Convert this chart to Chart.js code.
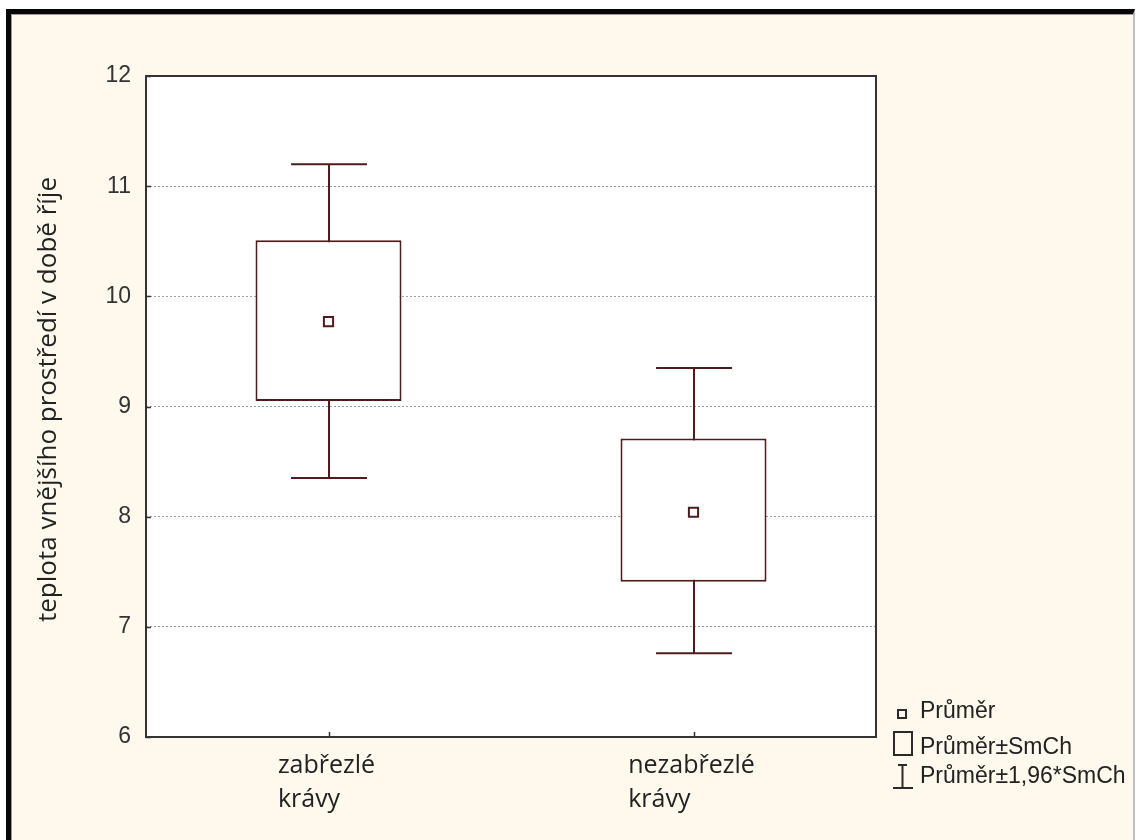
<!DOCTYPE html>
<html>
<head>
<meta charset="utf-8">
<script src="https://cdn.jsdelivr.net/npm/chart.js@4.4.1/dist/chart.umd.min.js"></script>
<style>
  html, body { margin: 0; padding: 0; background: #ffffff; }
  body { width: 1137px; height: 840px; position: relative; overflow: hidden; }
  #frame {
    position: absolute; left: 6px; top: 9px; width: 1122px; height: 826px;
    background: #fef9ec;
    border-top: 5px solid #060606; border-left: 5px solid #060606; border-right: 2px solid #bdbdbd;
    box-shadow: inset 1px 1px 0 #9c9c9c;
  }
  #chart { position: absolute; left: 0; top: 0; }
  .lg-text {
    position: absolute; left: 920px; font-family: "Liberation Sans", Arial, sans-serif;
    font-size: 23px; line-height: 23px; color: #222; white-space: nowrap;
  }
  .lg-sym { position: absolute; }
</style>
</head>
<body>
<div id="frame"></div>
<canvas id="chart" width="1137" height="840"></canvas>

<!-- legend -->
<div class="lg-sym" style="left:897px;top:709px;width:10px;height:10px;box-sizing:border-box;border:2px solid #2a2a2a;"></div>
<div class="lg-text" style="top:699px;">Průměr</div>
<div class="lg-sym" style="left:893px;top:731px;width:20px;height:25px;box-sizing:border-box;border:2px solid #2a2a2a;"></div>
<div class="lg-text" style="top:735px;">Průměr±SmCh</div>
<svg class="lg-sym" style="left:890px;top:760px;" width="26" height="32">
  <path d="M8 5 H17 M12.5 5 V28 M3 28 H23" stroke="#2a2a2a" stroke-width="2" fill="none"/>
</svg>
<div class="lg-text" style="top:764px;">Průměr±1,96*SmCh</div>

<script>
// Group labels (each entry is split over two lines)
const categories = [['zabřezlé', 'krávy'], ['nezabřezlé', 'krávy']];
// Mean, mean ± standard error, mean ± 1.96 * standard error
const means  = [9.77, 8.04];
const seLow  = [9.05, 7.41];
const seHigh = [10.51, 8.71];
const ciLow  = [8.35, 6.76];
const ciHigh = [11.20, 9.35];
// Value axis
const yMin = 6, yMax = 12, yStep = 1;
const yTitle = 'teplota vnějšího prostředí v době říje';

const BOX_COLOR = '#4e1c1c';
const FRAME_COLOR = '#333333';
const LABEL_FONT = '25px "Open Sans", "Segoe UI", sans-serif';
const TITLE_FONT = '26px "Open Sans", "Segoe UI", sans-serif';

// Whiskers are drawn under the boxes so the white box hides the middle part
const whiskerPlugin = {
  id: 'whiskers',
  beforeDatasetsDraw(chart) {
    const { ctx, scales: { x, y } } = chart;
    const boxMeta = chart.getDatasetMeta(1);
    ctx.save();
    ctx.strokeStyle = BOX_COLOR;
    ctx.lineWidth = 2;
    categories.forEach((c, i) => {
      const cx = Math.round(x.getPixelForValue(i));
      const half = boxMeta.data[i].width * 0.26;
      const yt = y.getPixelForValue(ciHigh[i]);
      const yb = y.getPixelForValue(ciLow[i]);
      ctx.beginPath();
      ctx.moveTo(cx, yt); ctx.lineTo(cx, yb);
      ctx.moveTo(cx - half, yt); ctx.lineTo(cx + half, yt);
      ctx.moveTo(cx - half, yb); ctx.lineTo(cx + half, yb);
      ctx.stroke();
    });
    ctx.restore();
  }
};

// White plot background, full frame, inward tick marks, axis title and two-line group labels
const framePlugin = {
  id: 'plotFrame',
  beforeDraw(chart) {
    const { ctx, chartArea: a } = chart;
    ctx.save();
    ctx.fillStyle = '#ffffff';
    ctx.fillRect(a.left, a.top, a.right - a.left, a.bottom - a.top);
    ctx.restore();
  },
  afterDraw(chart) {
    const { ctx, chartArea: a, scales: { x, y } } = chart;
    ctx.save();
    ctx.strokeStyle = FRAME_COLOR;
    ctx.lineWidth = 1.5;
    ctx.beginPath();
    y.ticks.forEach(t => {
      const py = Math.round(y.getPixelForValue(t.value)) + 0.5;
      ctx.moveTo(a.left, py); ctx.lineTo(a.left + 5, py);
    });
    categories.forEach((c, i) => {
      const px = Math.round(x.getPixelForValue(i)) + 0.5;
      ctx.moveTo(px, a.bottom); ctx.lineTo(px, a.bottom - 5);
    });
    ctx.stroke();
    ctx.lineWidth = 2;
    ctx.strokeRect(a.left, a.top, a.right - a.left, a.bottom - a.top);

    ctx.fillStyle = '#222222';
    // axis title, rotated
    ctx.save();
    ctx.font = TITLE_FONT;
    ctx.textAlign = 'center';
    ctx.textBaseline = 'middle';
    ctx.translate(49, (a.top + a.bottom) / 2 - 7);
    ctx.rotate(-Math.PI / 2);
    ctx.fillText(yTitle, 0, 0);
    ctx.restore();

    ctx.font = LABEL_FONT;
    ctx.textAlign = 'left';
    ctx.textBaseline = 'alphabetic';
    categories.forEach((lines, i) => {
      const cx = x.getPixelForValue(i);
      const w = Math.max(...lines.map(l => ctx.measureText(l).width));
      lines.forEach((l, k) => ctx.fillText(l, cx - w / 2 - 2, a.bottom + 36 + k * 34));
    });
    ctx.restore();
  }
};

new Chart(document.getElementById('chart'), {
  type: 'bar',
  data: {
    labels: categories,
    datasets: [
      {
        type: 'line',
        label: 'Průměr',
        data: means,
        showLine: false,
        pointStyle: 'rect',
        pointRadius: 6.5,
        pointHoverRadius: 6.5,
        pointBorderWidth: 2,
        pointBackgroundColor: '#ffffff',
        borderColor: BOX_COLOR,
        order: 0
      },
      {
        label: 'Průměr±SmCh',
        data: seLow.map((lo, i) => [lo, seHigh[i]]),
        backgroundColor: '#ffffff',
        borderColor: BOX_COLOR,
        borderWidth: 2,
        borderSkipped: false,
        barPercentage: 0.4,
        categoryPercentage: 1.0,
        order: 1
      }
    ]
  },
  options: {
    responsive: false,
    animation: false,
    devicePixelRatio: 1,
    layout: { padding: { left: 0, top: 76, right: 261, bottom: 0 } },
    plugins: { legend: { display: false }, tooltip: { enabled: false } },
    scales: {
      x: {
        offset: true,
        grid: { display: false },
        border: { display: false },
        ticks: { display: false },
        afterFit(scale) { scale.height = 103; }
      },
      y: {
        min: yMin, max: yMax,
        ticks: {
          stepSize: yStep,
          padding: 15,
          color: '#333333',
          font: { family: '"Liberation Sans", Arial, sans-serif', size: 23 }
        },
        grid: { color: '#9a9a9a', lineWidth: 1, drawTicks: false },
        border: { display: false, dash: [2, 2] },
        title: { display: false },
        afterFit(scale) { scale.width = 146; }
      }
    }
  },
  plugins: [whiskerPlugin, framePlugin]
});
</script>
</body>
</html>
